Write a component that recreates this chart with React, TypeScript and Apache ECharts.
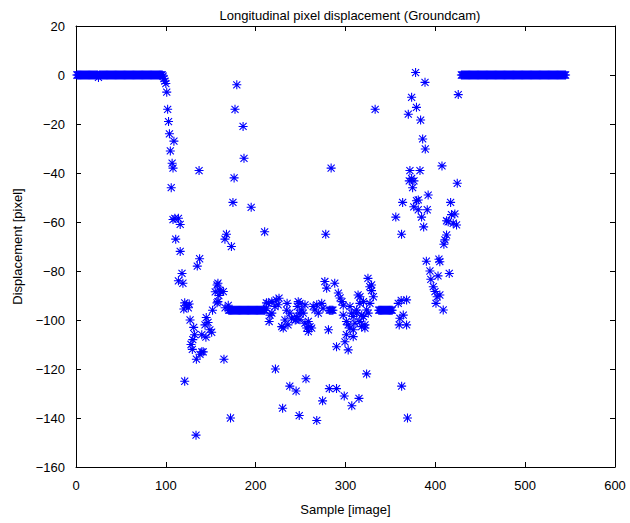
import React, { useEffect, useRef } from "react";
import * as echarts from "echarts";

// Constant stretches of the displacement trace: [first sample, last sample, value]
const runStart = [1, 170, 282, 337, 429];
const runEnd = [96, 210, 286, 352, 545];
const runValue = [0, -96, -96, -96, 0];

// Isolated samples [sample, displacement]
const leadInDip: [number, number][] = [[25, -1]];

const descent: [number, number][] = [
  [97, -0.5], [98, -1.5], [99, -2.5], [100, -3.5], [101, -7], [102, -14], [103, -19],
  [104, -24], [109, -27], [105, -31], [107, -36], [108, -38], [106, -46], [108, -59],
  [110, -58.5], [114, -58.5], [116, -61], [111, -67], [116, -72], [118, -81], [114, -84],
  [119, -85], [121, -93], [123, -94], [125, -95], [120, -95.5], [126, -93.5],
];

const leftCluster: [number, number][] = [
  [127, -100], [131, -103], [132, -106], [130, -108], [128, -110], [129.5, -112],
  [140, -106], [144.6, -107], [145, -99], [143.6, -102], [147, -101], [149, -104],
  [151, -105], [140, -113], [141.6, -113], [138, -114], [134, -116], [137.6, -75],
  [135, -78], [152, -96], [157, -93], [158, -92.5], [158, -85], [155, -88.5],
  [161, -88.5], [159, -90], [160, -87.8], [164, -88.4], [157, -85.7], [166, -95],
  [169.5, -94], [167.5, -65], [165.8, -67], [173, -70],
];

const plateauScatter: [number, number][] = [
  [212, -93], [214, -93.2], [218, -92.5], [223, -91.8], [226, -91.1], [212, -95.2],
  [216, -98], [215, -100.6], [218, -97.2], [221.5, -94.5], [225, -93.8],
  [235, -93.2], [234.5, -96], [238, -97.2], [232.6, -100], [229, -102.7], [230.7, -103.3],
  [240, -99.3], [244, -100], [236, -102],
  [247.4, -92.5], [249.3, -93.2], [246.3, -94.5], [251.2, -95.9], [248.5, -97.2],
  [254.9, -93.8], [253, -97.2], [245.7, -98.6], [249.3, -99.9], [244.9, -99.9],
  [254.9, -101.3], [258.6, -100.6], [260.5, -102.7], [256.8, -103.3], [258.6, -104.7],
  [262.3, -103.3],
  [264, -94.5], [268, -93.8], [273.5, -93.2], [266, -95.9], [269.7, -97.2], [275, -95.2],
  [277, -84.3], [279, -87], [288, -85], [292, -89], [294, -91], [296, -92.5], [297.5, -94],
  [281, -104], [297.5, -98], [301, -100.6], [303, -102], [305, -103.3], [301, -106],
  [308.6, -106.8], [299.4, -108.9], [290, -110.9], [303, -112.2],
  [314, -89.8], [316, -93.2], [320, -92.5], [323.5, -95.9], [312.4, -97.2], [318, -98],
  [320, -98.6], [325.3, -97.2], [321.7, -102], [308.6, -98.6], [316, -100.6],
  [305, -94.5], [306.8, -97.2], [310.5, -101.3], [308.7, -104], [318, -102.7],
  [321.6, -103.3], [316.1, -90.5], [312.4, -95.9],
  [325, -83], [327, -86.4], [329, -85.7], [329, -88], [331, -90.5], [327.2, -93.2],
  [358.7, -93.2], [362, -92], [368, -91.8], [364.3, -98], [360.6, -99.3], [359.8, -102],
  [368, -102],
];

const lowOutliers: [number, number][] = [
  [121, -125], [133.6, -147], [164.7, -116], [172, -140], [222, -120], [238, -127],
  [245, -129], [256, -124], [230, -136], [248.5, -139], [268, -141], [282, -128],
  [290, -128], [274.5, -133], [298.6, -131], [307, -135], [315, -132], [323.5, -122],
  [362.5, -127], [369, -140],
];

const highOutliers: [number, number][] = [
  [137, -39], [174.7, -52], [176, -42], [177, -14], [179, -4], [186, -21], [187, -34],
  [195, -54], [210, -64], [278, -65], [284, -38], [333, -14],
];

const ascent: [number, number][] = [
  [356, -58], [362.4, -65], [363.6, -52], [371.7, -39], [382.9, -39], [373.6, -42.2],
  [371, -43.2], [376.2, -43.2], [374.7, -46], [392, -49], [381, -51], [379, -51.3],
  [376, -53.8], [381, -55], [391, -55], [384.7, -58], [387, -62], [378, 1], [388.5, -3],
  [425.5, -8], [373.6, -9.1], [379, -13.2], [369.9, -16], [383.6, -18.4], [385.9, -26.1],
  [388.8, -30.2], [407.4, -37.1], [424.4, -44.2], [417, -52], [418, -57], [421.7, -56.7],
  [414.3, -59.9], [419.9, -60.5], [423.6, -61.2], [412.5, -59.5], [412.5, -65.3],
  [410.7, -67.3], [409.5, -69.1], [390, -76], [404, -75.2], [405, -76.2], [394, -80],
  [395, -83.4], [403, -82], [415.5, -81], [397.7, -86.4], [399.6, -88.4], [402, -90.5],
  [405, -89.8], [400.7, -93.2], [408.8, -95.9],
];

const xTicks = { min: 0, max: 600, interval: 100 };
const yTicks = { min: -160, max: 20, interval: 20 };

const FONT = "'Liberation Sans', Arial, sans-serif";
const BLUE = "#0000ff";
// gnuplot-style asterisk: a "+" and an "x" overlaid
const ASTERISK =
  "path://M0 4.4H10V5.6H0Z M4.4 0H5.6V10H4.4Z M1.5 0.65L9.35 8.5L8.5 9.35L0.65 1.5Z M8.5 0.65L9.35 1.5L1.5 9.35L0.65 8.5Z";

function buildPoints(): [number, number][] {
  const pts: [number, number][] = [];
  runStart.forEach((s, i) => {
    for (let x = s; x <= runEnd[i]; x++) {
      if (leadInDip.some((d) => d[0] === x)) continue;
      pts.push([x, runValue[i]]);
    }
  });
  return pts.concat(leadInDip, descent, leftCluster, plateauScatter, lowOutliers, highOutliers, ascent);
}

const minusFmt = (v: number) => String(v).replace("-", "\u2212");

export default function App() {
  const ref = useRef<HTMLDivElement>(null);
  useEffect(() => {
    if (!ref.current) return;
    const chart = echarts.init(ref.current, undefined, { renderer: "svg" });
    const axisLine = { show: true, onZero: false, lineStyle: { color: "#000", width: 1 } };
    const axisTick = { show: true, inside: true, length: 5, lineStyle: { color: "#000" } };
    const label = { color: "#000", fontSize: 13, fontFamily: FONT };
    chart.setOption({
      animation: false,
      backgroundColor: "#fff",
      title: {
        text: "Longitudinal pixel displacement (Groundcam)",
        left: 345,
        top: 4,
        textAlign: "center",
        textStyle: { color: "#000", fontSize: 13, fontWeight: "normal", fontFamily: FONT },
      },
      grid: { left: 76, right: 15, top: 26, bottom: 56, containLabel: false },
      xAxis: [
        {
          type: "value",
          ...xTicks,
          position: "bottom",
          axisLine,
          axisTick,
          axisLabel: { ...label, margin: 12, formatter: minusFmt },
          splitLine: { show: false },
          name: "Sample [image]",
          nameLocation: "middle",
          nameGap: 36,
          nameTextStyle: label,
        },
        {
          type: "value",
          ...xTicks,
          position: "top",
          axisLine,
          axisTick,
          axisLabel: { show: false },
          splitLine: { show: false },
        },
      ],
      yAxis: [
        {
          type: "value",
          ...yTicks,
          position: "left",
          axisLine,
          axisTick,
          axisLabel: { ...label, margin: 11, formatter: minusFmt },
          splitLine: { show: false },
          name: "Displacement [pixel]",
          nameLocation: "middle",
          nameGap: 52,
          nameTextStyle: label,
        },
        {
          type: "value",
          ...yTicks,
          position: "right",
          axisLine,
          axisTick,
          axisLabel: { show: false },
          splitLine: { show: false },
        },
      ],
      series: [
        {
          type: "scatter",
          xAxisIndex: 0,
          yAxisIndex: 0,
          data: buildPoints(),
          symbol: ASTERISK,
          symbolSize: 9,
          itemStyle: { color: BLUE, opacity: 1 },
          emphasis: { disabled: true },
        },
      ],
    });
    return () => chart.dispose();
  }, []);
  return <div ref={ref} style={{ position: "fixed", left: 0, top: 0, width: 630, height: 523 }} />;
}
